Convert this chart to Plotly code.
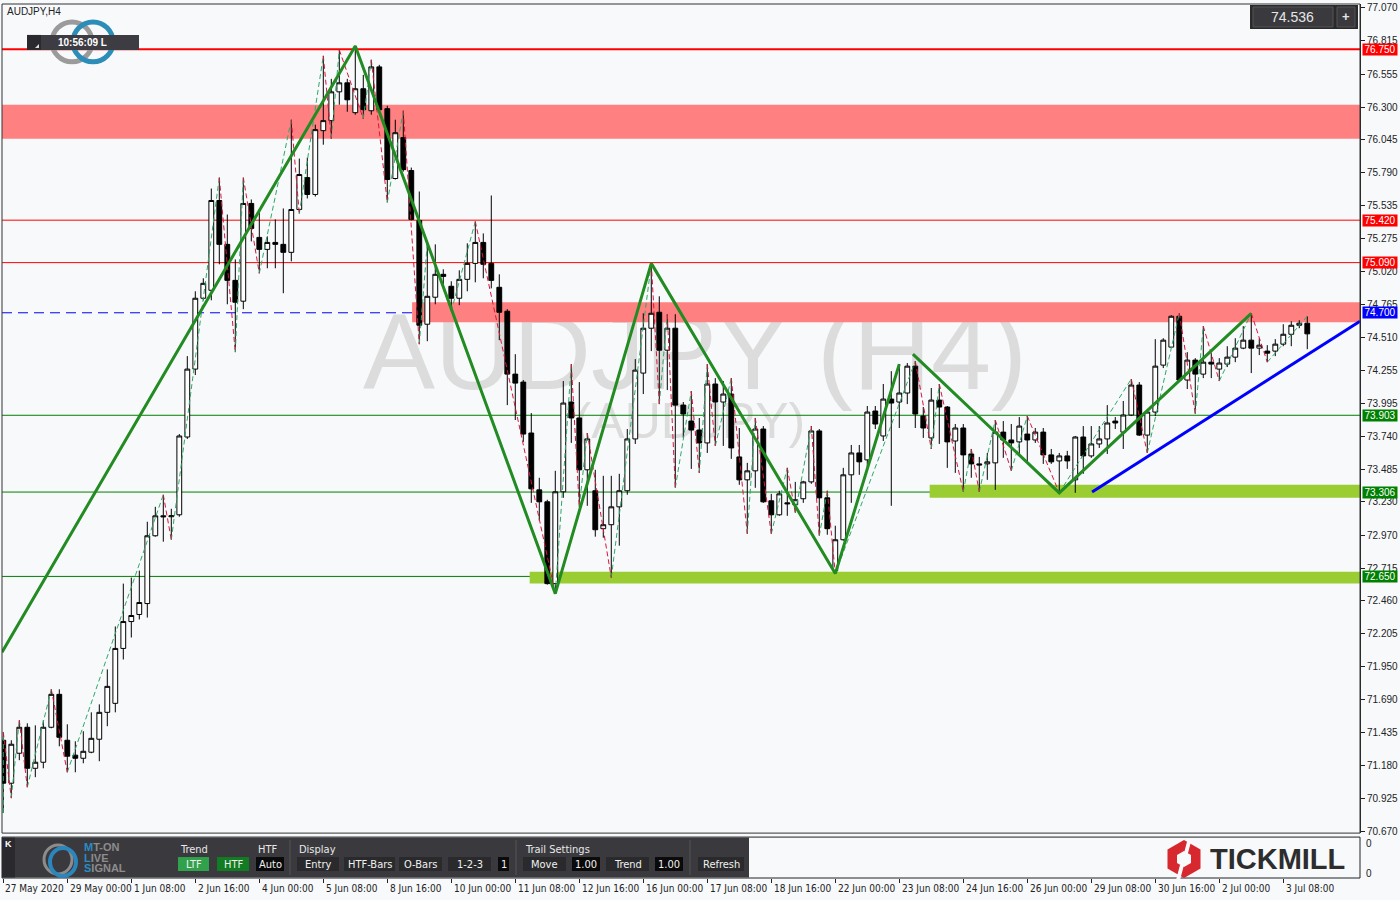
import plotly.graph_objects as go

# ---------------- DATA (AUDJPY H4) ----------------
opens = [71.376, 71.042, 71.275, 71.477, 71.158, 71.205, 71.477, 71.733, 71.376, 71.260,
         71.236, 71.283, 71.384, 71.593, 71.663, 72.090, 72.299, 72.354, 72.439, 72.966,
         73.121, 73.114, 73.129, 73.734, 74.262, 74.813, 74.875, 75.573, 75.232, 74.952,
         74.790, 75.550, 75.286, 75.193, 75.247, 75.232, 75.170, 75.503, 75.751, 75.620,
         76.116, 76.194, 76.418, 76.488, 76.256, 76.442, 76.271, 76.612, 76.287, 75.744,
         76.062, 75.806, 75.418, 74.611, 74.821, 74.999, 74.906, 74.813, 74.960, 75.084,
         75.247, 75.084, 74.898, 74.712, 74.223, 74.161, 73.765, 73.323, 73.230, 72.594,
         73.308, 74.006, 73.882, 73.479, 73.316, 73.021, 73.052, 73.191, 73.316, 73.719,
         74.231, 74.580, 74.704, 74.409, 74.580, 73.982, 73.858, 73.788, 73.688, 74.146,
         74.006, 74.068, 73.579, 73.401, 73.471, 73.796, 73.238, 73.129, 73.222, 73.207,
         73.254, 73.385, 73.781, 73.261, 72.695, 72.935, 73.440, 73.610, 73.556, 73.936,
         73.742, 74.029, 74.006, 74.076, 74.285, 73.897, 73.727, 74.021, 73.967, 73.703,
         73.804, 73.602, 73.525, 73.525, 73.533, 73.772, 73.711, 73.696, 73.757, 73.711,
         73.772, 73.595, 73.548, 73.587, 73.401, 73.734, 73.587, 73.680, 73.719, 73.858,
         73.772, 73.905, 74.138, 73.749, 73.928, 74.293, 74.433, 74.673, 74.177, 74.332,
         74.223, 74.316, 74.262, 74.301, 74.355, 74.425, 74.487, 74.425, 74.402, 74.402,
         74.456, 74.533, 74.603, 74.619]
highs = [71.438, 71.376, 71.531, 71.508, 71.492, 71.531, 71.772, 71.772, 71.500, 71.368,
         71.446, 71.593, 71.655, 71.927, 72.261, 72.594, 72.641, 72.695, 73.075, 73.191,
         73.285, 73.176, 73.757, 74.363, 74.867, 74.968, 75.666, 75.751, 75.464, 75.115,
         75.751, 75.581, 75.503, 75.294, 75.426, 75.511, 76.201, 75.899, 75.906, 76.163,
         76.698, 76.519, 76.744, 76.519, 76.775, 76.550, 76.667, 76.628, 76.310, 76.201,
         76.271, 75.829, 75.643, 75.240, 75.232, 75.038, 74.945, 75.030, 75.240, 75.410,
         75.317, 75.612, 74.999, 74.728, 74.378, 74.177, 73.920, 73.417, 73.246, 73.471,
         74.169, 74.301, 74.161, 73.765, 73.479, 73.432, 73.432, 73.448, 73.796, 74.340,
         74.696, 75.084, 74.828, 74.689, 74.689, 74.006, 74.091, 73.882, 74.301, 74.192,
         74.169, 74.192, 73.804, 73.533, 73.882, 73.819, 73.292, 73.316, 73.494, 73.385,
         73.393, 73.819, 73.796, 73.316, 73.044, 73.494, 73.672, 73.672, 73.975, 73.975,
         74.146, 74.246, 74.301, 74.309, 74.324, 73.967, 74.115, 74.146, 73.975, 73.835,
         73.835, 73.641, 73.579, 73.610, 73.866, 73.858, 73.835, 73.889, 73.897, 73.804,
         73.804, 73.641, 73.610, 73.626, 73.742, 73.819, 73.819, 73.819, 73.982, 73.889,
         74.014, 74.185, 74.161, 73.936, 74.495, 74.502, 74.681, 74.696, 74.394, 74.347,
         74.596, 74.386, 74.347, 74.440, 74.502, 74.596, 74.696, 74.502, 74.448, 74.495,
         74.611, 74.634, 74.642, 74.673]
lows = [70.810, 70.926, 71.221, 71.011, 71.089, 71.158, 71.469, 71.329, 71.127, 71.127,
        71.197, 71.275, 71.213, 71.485, 71.593, 72.004, 72.175, 72.315, 72.330, 72.959,
        72.920, 72.935, 73.114, 73.719, 74.216, 74.797, 74.797, 75.077, 74.766, 74.394,
        74.728, 75.255, 75.007, 75.046, 75.046, 74.852, 75.100, 75.472, 75.589, 75.604,
        76.007, 76.054, 76.318, 76.263, 76.240, 76.209, 76.240, 76.263, 75.558, 75.736,
        75.798, 75.418, 74.456, 74.479, 74.766, 74.921, 74.712, 74.759, 74.867, 74.937,
        74.968, 74.890, 74.487, 73.982, 73.866, 73.696, 73.222, 73.083, 72.586, 72.516,
        73.261, 73.688, 73.191, 73.199, 72.959, 72.951, 72.641, 72.889, 73.285, 73.680,
        74.068, 74.402, 73.990, 74.099, 73.339, 73.727, 73.486, 73.455, 73.610, 73.665,
        73.665, 73.564, 73.362, 72.982, 73.339, 73.222, 72.982, 73.121, 73.121, 73.145,
        73.222, 73.370, 72.966, 72.974, 72.672, 72.928, 73.222, 73.440, 73.502, 73.796,
        73.703, 73.199, 73.804, 73.990, 73.804, 73.727, 73.641, 73.680, 73.494, 73.455,
        73.308, 73.417, 73.308, 73.401, 73.323, 73.572, 73.471, 73.595, 73.541, 73.688,
        73.525, 73.525, 73.300, 73.486, 73.300, 73.448, 73.572, 73.649, 73.602, 73.796,
        73.641, 73.897, 73.742, 73.610, 73.897, 74.270, 74.425, 74.170, 74.107, 73.913,
        74.192, 74.192, 74.169, 74.278, 74.316, 74.417, 74.231, 74.371, 74.316, 74.363,
        74.440, 74.440, 74.580, 74.417]
closes = [71.042, 71.345, 71.477, 71.158, 71.205, 71.477, 71.733, 71.399, 71.252, 71.236,
          71.290, 71.391, 71.593, 71.795, 72.090, 72.299, 72.346, 72.447, 72.966, 73.121,
          73.114, 73.121, 73.742, 74.262, 74.813, 74.929, 75.573, 75.232, 74.952, 74.782,
          75.550, 75.356, 75.193, 75.247, 75.232, 75.170, 75.503, 75.775, 75.620, 76.124,
          76.194, 76.418, 76.488, 76.356, 76.442, 76.279, 76.612, 76.279, 75.736, 76.100,
          75.813, 75.426, 74.603, 74.828, 74.999, 74.983, 74.813, 74.960, 75.084, 75.247,
          75.077, 74.952, 74.704, 74.223, 74.153, 73.757, 73.331, 73.230, 72.594, 73.308,
          73.998, 73.882, 73.479, 73.719, 73.013, 73.052, 73.191, 73.316, 73.719, 74.254,
          74.580, 74.696, 74.409, 74.580, 73.982, 73.913, 73.788, 73.688, 74.146, 74.006,
          74.068, 73.649, 73.401, 73.471, 73.796, 73.230, 73.129, 73.292, 73.215, 73.246,
          73.385, 73.781, 73.261, 73.021, 72.935, 73.440, 73.610, 73.541, 73.928, 73.835,
          74.029, 73.998, 74.076, 74.285, 73.913, 73.804, 74.021, 73.967, 73.696, 73.804,
          73.595, 73.525, 73.517, 73.541, 73.772, 73.711, 73.688, 73.819, 73.711, 73.772,
          73.595, 73.541, 73.587, 73.548, 73.734, 73.587, 73.680, 73.719, 73.843, 73.843,
          73.905, 74.138, 73.749, 73.928, 74.285, 74.487, 74.673, 74.177, 74.332, 74.223,
          74.316, 74.301, 74.309, 74.355, 74.425, 74.487, 74.425, 74.448, 74.386, 74.456,
          74.533, 74.603, 74.619, 74.536]

tick_idx = [0, 8, 16, 24, 32, 40, 48, 56, 64, 72, 80, 88, 96, 104, 112, 120, 128, 136, 144, 152, 160]
tick_labels = ["27 May 2020", "29 May 00:00", "1 Jun 08:00", "2 Jun 16:00", "4 Jun 00:00",
               "5 Jun 08:00", "8 Jun 16:00", "10 Jun 00:00", "11 Jun 08:00", "12 Jun 16:00",
               "16 Jun 00:00", "17 Jun 08:00", "18 Jun 16:00", "22 Jun 00:00", "23 Jun 08:00",
               "24 Jun 16:00", "26 Jun 00:00", "29 Jun 08:00", "30 Jun 16:00", "2 Jul 00:00",
               "3 Jul 08:00"]
price_ticks = [77.070, 76.815, 76.555, 76.300, 76.045, 75.790, 75.535, 75.275, 75.020, 74.765,
               74.510, 74.255, 73.995, 73.740, 73.485, 73.230, 72.970, 72.715, 72.460, 72.205,
               71.950, 71.690, 71.435, 71.180, 70.925, 70.670]

levels = [76.750, 75.420, 75.090, 74.700, 73.903, 73.306, 72.650]
red_zones = [(76.054, 76.318, -0.16), (74.626, 74.781, 51.1)]      # (low, high, start index)
green_zones = [(73.261, 73.362, 115.8), (72.594, 72.687, 65.8)]
zz_main_x = [-0.16, 44, 69, 81, 104, 112]
zz_main_y = [72.061, 76.775, 72.516, 75.084, 72.672, 74.301]
zz_second_x = [113.7, 132, 156]
zz_second_y = [74.378, 73.300, 74.696]
trend_x = [136.1, 169.59]
trend_y = [73.307, 74.634]
current_price = 74.536
symbol = "AUDJPY"
timeframe = "H4"

# ---------------- styles ----------------
level_colors = ['#FF0000', '#FF0000', '#FF0000', '#0000FF', '#008000', '#008000', '#008000']
level_widths = [2, 1, 1, 1, 1, 1, 1]
level_dash = ['solid', 'solid', 'solid', '10px,6px', 'solid', 'solid', 'solid']
BG = '#F7F9FB'
FONT = 'Liberation Sans, Arial, sans-serif'
NARROW = 'Liberation Sans Narrow, DejaVu Sans Condensed, Liberation Sans, sans-serif'

W, H = 1400, 900
ML, MR, MT, MB = 2, 40, 2, 22
PW, PH = W - ML - MR, H - MT - MB
XMIN, XMAX = -0.1625, 169.59


def px(X):
    return (X - ML) / PW


def py(Y):
    return (H - MB - Y) / PH


n = len(opens)
idx = list(range(n))

fig = go.Figure()
fig.add_trace(go.Candlestick(
    x=idx, open=opens, high=highs, low=lows, close=closes,
    increasing=dict(line=dict(color='#000000', width=1), fillcolor='#FFFFFF'),
    decreasing=dict(line=dict(color='#000000', width=1), fillcolor='#000000'),
    whiskerwidth=0, hoverinfo='skip', showlegend=False))


# thin dashed swing zigzag derived from the candles
def zigzag(h, l, dev):
    pts = [(0, l[0])]
    up = True
    cand = (0, h[0])
    for i in range(1, len(h)):
        if up:
            if h[i] > cand[1]:
                cand = (i, h[i])
            elif cand[1] - l[i] >= dev:
                pts.append(cand); up = False; cand = (i, l[i])
        else:
            if l[i] < cand[1]:
                cand = (i, l[i])
            elif h[i] - cand[1] >= dev:
                pts.append(cand); up = True; cand = (i, h[i])
    pts.append(cand)
    return pts


zpts = zigzag(highs, lows, 0.3)
ux, uy, dx, dy = [], [], [], []
for a, b in zip(zpts[:-1], zpts[1:]):
    if b[1] >= a[1]:
        ux += [a[0], b[0], None]; uy += [a[1], b[1], None]
    else:
        dx += [a[0], b[0], None]; dy += [a[1], b[1], None]
fig.add_trace(go.Scatter(x=ux, y=uy, mode='lines', line=dict(color='#2FA866', width=1, dash='5px,3px'),
                         hoverinfo='skip', showlegend=False))
fig.add_trace(go.Scatter(x=dx, y=dy, mode='lines', line=dict(color='#DC143C', width=1, dash='5px,3px'),
                         hoverinfo='skip', showlegend=False))

fig.add_trace(go.Scatter(x=zz_main_x, y=zz_main_y, mode='lines', line=dict(color='#228B22', width=3),
                         hoverinfo='skip', showlegend=False))
fig.add_trace(go.Scatter(x=zz_second_x, y=zz_second_y, mode='lines', line=dict(color='#228B22', width=3),
                         hoverinfo='skip', showlegend=False))
fig.add_trace(go.Scatter(x=trend_x, y=trend_y, mode='lines', line=dict(color='#0000FF', width=3),
                         hoverinfo='skip', showlegend=False))

shapes = []
ann = []

# watermark
shapes.append(dict(type='rect', xref='paper', yref='paper', x0=px(360), x1=px(1030), y0=py(400), y1=py(280),
                   line=dict(width=0), fillcolor='rgba(0,0,0,0)', layer='below',
                   label=dict(text=f'{symbol} ({timeframe})', textposition='middle center',
                              font=dict(size=108, color='#DCDCDC', family=FONT))))
shapes.append(dict(type='rect', xref='paper', yref='paper', x0=px(560), x1=px(820), y0=py(445), y1=py(385),
                   line=dict(width=0), fillcolor='rgba(0,0,0,0)', layer='below',
                   label=dict(text=f'({symbol})', textposition='middle center',
                              font=dict(size=50, color='#DCDCDC', family=FONT))))

for lo, hi, start in red_zones:
    shapes.append(dict(type='rect', xref='x', yref='y', x0=start, x1=XMAX, y0=lo, y1=hi,
                       fillcolor='#FF8080', line=dict(width=0), layer='below'))
for lo, hi, start in green_zones:
    shapes.append(dict(type='rect', xref='x', yref='y', x0=start, x1=XMAX, y0=lo, y1=hi,
                       fillcolor='#9ACD32', line=dict(width=0), layer='below'))

for v, c, w, d in zip(levels, level_colors, level_widths, level_dash):
    shapes.append(dict(type='line', xref='paper', yref='y', x0=0, x1=1, y0=v, y1=v,
                       line=dict(color=c, width=w, dash=d), layer='below'))
    ann.append(dict(text=f'{v:.3f}', xref='paper', x=1, xanchor='left', xshift=2, yref='y', y=v,
                    yanchor='middle', showarrow=False, bgcolor=c, width=34, height=11, borderpad=0,
                    font=dict(color='#FFFFFF', size=10, family=FONT)))

# main frame
shapes.append(dict(type='rect', xref='paper', yref='paper', x0=0, x1=1, y0=py(833), y1=1,
                   line=dict(color='#333333', width=1), fillcolor='rgba(0,0,0,0)', layer='above'))

# symbol caption
ann.append(dict(text=f'{symbol},{timeframe}', xref='paper', yref='paper', x=px(5), y=py(10),
                xanchor='left', yanchor='middle', showarrow=False,
                font=dict(size=10, color='#222222', family=FONT)))

# logo rings + timer box
shapes.append(dict(type='circle', xref='paper', yref='paper', x0=px(52), x1=px(92), y0=py(60), y1=py(20),
                   line=dict(color='#9B9B9B', width=5), layer='above'))
shapes.append(dict(type='circle', xref='paper', yref='paper', x0=px(73), x1=px(113), y0=py(60), y1=py(20),
                   line=dict(color='#2B8DB8', width=5), layer='above'))
shapes.append(dict(type='rect', xref='paper', yref='paper', x0=px(27), x1=px(139), y0=py(48), y1=py(33),
                   fillcolor='#3C3C42', line=dict(width=0), layer='above'))
shapes.append(dict(type='rect', xref='paper', yref='paper', x0=px(27), x1=px(41), y0=py(48), y1=py(33),
                   fillcolor='#2A2A2E', line=dict(width=0), layer='above'))
shapes.append(dict(type='path', xref='paper', yref='paper', layer='above', fillcolor='#DDDDDD',
                   line=dict(width=0),
                   path=f'M {px(35)} {py(46)} L {px(39)} {py(46)} L {px(39)} {py(42)} Z'))
ann.append(dict(text='<b>10:56:09 L</b>', xref='paper', yref='paper', x=px(82), y=py(40.5),
                xanchor='center', yanchor='middle', showarrow=False,
                font=dict(size=10, color='#FFFFFF', family=FONT)))

# current price box (top-right)
shapes.append(dict(type='rect', xref='paper', yref='paper', x0=px(1250), x1=px(1358), y0=py(27), y1=py(3),
                   fillcolor='#2A2A2C', line=dict(width=0), layer='above'))
shapes.append(dict(type='rect', xref='paper', yref='paper', x0=px(1253), x1=px(1333), y0=py(25), y1=py(5),
                   fillcolor='#3A3A3E', line=dict(color='#555555', width=1), layer='above'))
shapes.append(dict(type='rect', xref='paper', yref='paper', x0=px(1337), x1=px(1355), y0=py(25), y1=py(5),
                   fillcolor='#3A3A3E', line=dict(color='#555555', width=1), layer='above'))
ann.append(dict(text=f'{current_price:.3f}', xref='paper', yref='paper', x=px(1292), y=py(15),
                xanchor='center', yanchor='middle', showarrow=False,
                font=dict(size=14, color='#E6E6E6', family=FONT)))
ann.append(dict(text='<b>+</b>', xref='paper', yref='paper', x=px(1346), y=py(15),
                xanchor='center', yanchor='middle', showarrow=False,
                font=dict(size=13, color='#E6E6E6', family=FONT)))

# ---------------- bottom sub-panel ----------------
shapes.append(dict(type='rect', xref='paper', yref='paper', x0=0, x1=1, y0=py(878), y1=py(837),
                   fillcolor=BG, line=dict(color='#222222', width=1), layer='above'))
shapes.append(dict(type='rect', xref='paper', yref='paper', x0=px(2), x1=px(749), y0=py(877.5), y1=py(837.5),
                   fillcolor='#3A3A3E', line=dict(width=0), layer='above'))
shapes.append(dict(type='rect', xref='paper', yref='paper', x0=px(2), x1=px(15), y0=py(877.5), y1=py(837.5),
                   fillcolor='#2A2A2E', line=dict(width=0), layer='above'))
ann.append(dict(text='<b>K</b>', xref='paper', yref='paper', x=px(8.5), y=py(844),
                xanchor='center', yanchor='middle', showarrow=False,
                font=dict(size=9, color='#FFFFFF', family=FONT)))
# logo icon
shapes.append(dict(type='circle', xref='paper', yref='paper', x0=px(44), x1=px(72), y0=py(874), y1=py(845),
                   line=dict(color='#8C8C8C', width=3), layer='above'))
shapes.append(dict(type='circle', xref='paper', yref='paper', x0=px(50), x1=px(76), y0=py(876), y1=py(848),
                   line=dict(color='#2A86BD', width=4), layer='above'))
for txt, yy in [("<span style='color:#2A8CC4'>M</span>T-ON", 847),
                ("<span style='color:#2A8CC4'>L</span>IVE", 857.5),
                ("<span style='color:#2A8CC4'>S</span>IGNAL", 868)]:
    ann.append(dict(text=f'<b>{txt}</b>', xref='paper', yref='paper', x=px(82), y=py(yy),
                    xanchor='left', yanchor='middle', showarrow=False,
                    font=dict(size=11, color='#8C8C8C', family=FONT)))

for txt, xx in [('Trend', 178), ('HTF', 256), ('Display', 297), ('Trail Settings', 523)]:
    ann.append(dict(text=txt, xref='paper', yref='paper', x=px(xx), y=py(849),
                    xanchor='left', yanchor='middle', showarrow=False,
                    font=dict(size=11, color='#E8E8E8', family=NARROW)))

buttons = [(178, 209, 'LTF', '#31A24C'), (217, 249, 'HTF', '#127C22'), (256, 284, 'Auto', '#0A0A0A'),
           (297, 339, 'Entry', '#2A2A2C'), (344, 395, 'HTF-Bars', '#2A2A2C'), (399, 442, 'O-Bars', '#2A2A2C'),
           (448, 491, '1-2-3', '#2A2A2C'), (498, 509, '1', '#0A0A0A'), (523, 566, 'Move', '#2A2A2C'),
           (572, 600, '1.00', '#0A0A0A'), (606, 649, 'Trend', '#2A2A2C'), (655, 683, '1.00', '#0A0A0A'),
           (698, 744, 'Refresh', '#2A2A2C')]
for x0, x1, txt, fill in buttons:
    shapes.append(dict(type='rect', xref='paper', yref='paper', x0=px(x0), x1=px(x1), y0=py(871), y1=py(857),
                       fillcolor=fill, line=dict(width=0), layer='above'))
    ann.append(dict(text=txt, xref='paper', yref='paper', x=px((x0 + x1) / 2), y=py(864),
                    xanchor='center', yanchor='middle', showarrow=False,
                    font=dict(size=11, color='#F0F0F0', family=NARROW)))
for xx in [290, 516, 690]:
    shapes.append(dict(type='line', xref='paper', yref='paper', x0=px(xx), x1=px(xx), y0=py(875), y1=py(840),
                       line=dict(color='#555555', width=1), layer='above'))

# Tickmill logo
cx, cy = 1184, 859
shapes.append(dict(type='path', xref='paper', yref='paper', layer='above', fillcolor='#D7282F', line=dict(width=0),
                   path=(f'M {px(cx)} {py(cy-19)} L {px(cx+16.5)} {py(cy-9.5)} L {px(cx+16.5)} {py(cy+9.5)} '
                         f'L {px(cx)} {py(cy+19)} L {px(cx-16.5)} {py(cy+9.5)} L {px(cx-16.5)} {py(cy-9.5)} Z')))
shapes.append(dict(type='path', xref='paper', yref='paper', layer='above', fillcolor=BG, line=dict(width=0),
                   path=(f'M {px(cx)} {py(cy-8)} L {px(cx+7)} {py(cy-4)} L {px(cx+7)} {py(cy+4)} '
                         f'L {px(cx)} {py(cy+8)} L {px(cx-7)} {py(cy+4)} L {px(cx-7)} {py(cy-4)} Z')))
shapes.append(dict(type='path', xref='paper', yref='paper', layer='above', fillcolor=BG, line=dict(width=0),
                   path=(f'M {px(cx+4)} {py(cy-21)} L {px(cx+8)} {py(cy-21)} L {px(cx+4)} {py(cy-6)} '
                         f'L {px(cx)} {py(cy-6)} Z')))
shapes.append(dict(type='path', xref='paper', yref='paper', layer='above', fillcolor=BG, line=dict(width=0),
                   path=(f'M {px(cx-4)} {py(cy+21)} L {px(cx-8)} {py(cy+21)} L {px(cx-4)} {py(cy+6)} '
                         f'L {px(cx)} {py(cy+6)} Z')))
ann.append(dict(text='<b>TICKMILL</b>', xref='paper', yref='paper', x=px(1277), y=py(859),
                xanchor='center', yanchor='middle', showarrow=False,
                font=dict(size=29, color='#2D2D2D', family=FONT)))
for yy in [843, 873]:
    ann.append(dict(text='0', xref='paper', yref='paper', x=px(1364), y=py(yy),
                    xanchor='left', yanchor='middle', showarrow=False,
                    font=dict(size=10, color='#222222', family=FONT)))

# date labels, left-aligned at each tick like the terminal
for k, (ti, lab) in enumerate(zip(tick_idx, tick_labels)):
    ann.append(dict(text=lab, xref='x', yref='paper', x=ti + (0.05 if k else -0.1), y=py(889),
                    xanchor='left', yanchor='middle', showarrow=False,
                    font=dict(size=10, color='#222222', family=NARROW)))

fig.update_layout(
    width=W, height=H, margin=dict(l=ML, r=MR, t=MT, b=MB),
    paper_bgcolor=BG, plot_bgcolor=BG, showlegend=False,
    boxgap=0.25, boxgroupgap=0.2,
    xaxis=dict(range=[XMIN, XMAX], anchor='free', position=0, showgrid=False, zeroline=False,
               showline=False, ticks='outside', ticklen=4, tickcolor='#222222', tickvals=tick_idx,
               showticklabels=False, rangeslider=dict(visible=False), fixedrange=True),
    yaxis=dict(domain=[py(833), 1], range=[70.654, 77.101], side='right', showgrid=False, zeroline=False,
               showline=True, linecolor='#222222', linewidth=1, ticks='outside', ticklen=4,
               tickcolor='#222222', tickvals=price_ticks, ticktext=[f'{v:.3f}' for v in price_ticks],
               tickfont=dict(size=10, color='#222222', family=FONT), fixedrange=True),
    shapes=shapes, annotations=ann,
)

fig.write_html("out.html", config={'displayModeBar': False},
               post_script="document.body.style.margin='0';document.body.style.padding='0';"
                           "document.body.style.overflow='hidden';")
